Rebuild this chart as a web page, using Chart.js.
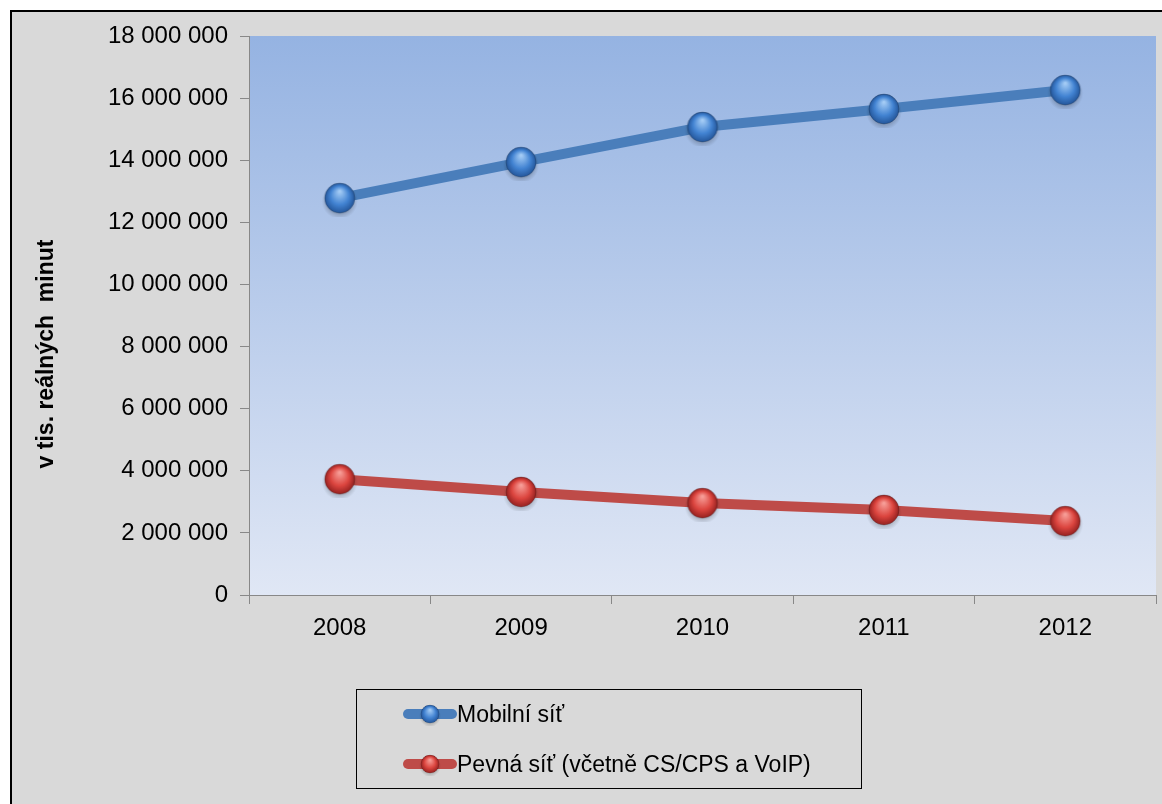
<!DOCTYPE html>
<html>
<head>
<meta charset="utf-8">
<script src="https://cdn.jsdelivr.net/npm/chart.js@4"></script>
<style>
  html, body { margin: 0; overflow: hidden; }
  body { background: #fff; font-family: "Liberation Sans", Arial, sans-serif; }
  .frame {
    position: absolute; left: 10px; top: 10px; width: 1150px; height: 792px;
    border-left: 2px solid #000; border-top: 2px solid #000; background: #d9d9d9;
  }
  .chart-wrap { position: absolute; left: 0; top: 0; width: 1162px; height: 804px; }
  .legend {
    position: absolute; left: 356px; top: 689px; width: 506px; height: 100px;
    box-sizing: border-box; border: 1px solid #000;
  }
  .legend-row { position: absolute; left: 46px; height: 30px; display: flex; align-items: center; font-size: 23px; color: #000; }
  .legend-row canvas { display: block; }
</style>
</head>
<body>
<div class="frame"></div>
<div class="chart-wrap"><canvas id="myChart" width="1162" height="804"></canvas></div>
<div class="legend" id="legend"></div>

<script>
const years = ["2008", "2009", "2010", "2011", "2012"];
const seriesNames = ["Mobilní síť", "Pevná síť (včetně CS/CPS a VoIP)"];
const mobileData = [12780000, 13940000, 15070000, 15650000, 16260000];
const fixedData = [3730000, 3320000, 2960000, 2740000, 2380000];
const yTicks = [0, 2000000, 4000000, 6000000, 8000000, 10000000, 12000000, 14000000, 16000000, 18000000];
const axisTitle = "v tis. reálných  minut";

function spaced(v) {
  return String(v).replace(/\B(?=(\d{3})+(?!\d))/g, " ");
}

// shiny ball used as point style
function makeBall(r, light, base, dark) {
  const size = r * 2 + 8;
  const c = document.createElement("canvas");
  c.width = size;
  c.height = size;
  const g = c.getContext("2d");
  const cx = size / 2, cy = size / 2;

  // soft shadow
  const sh = g.createRadialGradient(cx, cy + 3, r * 0.6, cx, cy + 3, r + 3);
  sh.addColorStop(0, "rgba(0,0,0,0.3)");
  sh.addColorStop(1, "rgba(0,0,0,0)");
  g.fillStyle = sh;
  g.beginPath();
  g.arc(cx, cy + 3, r + 3, 0, Math.PI * 2);
  g.fill();

  const grad = g.createRadialGradient(cx, cy - r * 0.45, r * 0.05, cx, cy, r);
  grad.addColorStop(0, light);
  grad.addColorStop(0.6, base);
  grad.addColorStop(1, dark);
  g.fillStyle = grad;
  g.beginPath();
  g.arc(cx, cy, r, 0, Math.PI * 2);
  g.fill();

  g.strokeStyle = "rgba(0,0,0,0.2)";
  g.lineWidth = 1;
  g.stroke();
  return c;
}

const blueBall = makeBall(15, "#a3cbf5", "#4283d2", "#24569a");
const redBall = makeBall(15, "#f79d97", "#dc453f", "#952120");

const plotBackground = {
  id: "plotBackground",
  beforeDraw(chart) {
    const { ctx, chartArea } = chart;
    const grad = ctx.createLinearGradient(0, chartArea.top, 0, chartArea.bottom);
    grad.addColorStop(0, "#95b3e2");
    grad.addColorStop(1, "#e0e7f5");
    ctx.save();
    ctx.fillStyle = grad;
    ctx.fillRect(chartArea.left, chartArea.top, chartArea.right - chartArea.left, chartArea.bottom - chartArea.top);
    ctx.restore();
  },
  afterDraw(chart) {
    const ctx = chart.ctx;
    ctx.save();
    ctx.translate(47, 354);
    ctx.rotate(-Math.PI / 2);
    ctx.font = "bold 23px 'Liberation Sans', Arial, sans-serif";
    ctx.fillStyle = "#000";
    ctx.textAlign = "center";
    ctx.textBaseline = "middle";
    ctx.fillText(axisTitle, 0, 0);
    ctx.restore();
  },
};

const ctx = document.getElementById("myChart");

new Chart(ctx, {
  type: "line",
  data: {
    labels: years,
    datasets: [
      {
        label: seriesNames[0],
        data: mobileData,
        borderColor: "#4a7ebb",
        borderWidth: 10,
        pointStyle: blueBall,
        pointRadius: 15,
        tension: 0,
      },
      {
        label: seriesNames[1],
        data: fixedData,
        borderColor: "#be4b48",
        borderWidth: 10,
        pointStyle: redBall,
        pointRadius: 15,
        tension: 0,
      },
    ],
  },
  options: {
    responsive: false,
    animation: false,
    layout: {
      autoPadding: false,
      padding: { left: 0, top: 36, right: 6, bottom: 169 },
    },
    plugins: {
      legend: { display: false },
      tooltip: { enabled: false },
    },
    scales: {
      x: {
        offset: true,
        afterFit: (scale) => {
          scale.height = 40;
          scale.paddingLeft = 0;
          scale.paddingRight = 0;
        },
        grid: {
          offset: true,
          drawOnChartArea: false,
          tickLength: 9,
          color: "#888",
        },
        border: { color: "#888" },
        ticks: {
          padding: 10,
          color: "#000",
          font: { family: "'Liberation Sans', Arial, sans-serif", size: 24 },
        },
      },
      y: {
        min: 0,
        max: 18000000,
        afterFit: (scale) => {
          scale.width = 249;
        },
        afterBuildTicks: (scale) => {
          scale.ticks = yTicks.map((v) => ({ value: v }));
        },
        grid: {
          drawOnChartArea: false,
          tickLength: 9,
          color: "#888",
        },
        border: { color: "#888" },
        ticks: {
          padding: 12,
          color: "#000",
          font: { family: "'Liberation Sans', Arial, sans-serif", size: 24 },
          callback: (v) => spaced(v),
        },
      },
    },
  },
  plugins: [plotBackground],
});

// -------- legend --------

const legendEl = document.getElementById("legend");
const legendItems = [
  { color: "#4a7ebb", ball: blueBall },
  { color: "#be4b48", ball: redBall },
];

legendItems.forEach((item, i) => {
  const row = document.createElement("div");
  row.className = "legend-row";
  row.style.top = (i === 0 ? 9 : 59) + "px";

  const sample = document.createElement("canvas");
  sample.width = 54;
  sample.height = 30;
  const g = sample.getContext("2d");
  g.strokeStyle = item.color;
  g.lineWidth = 10;
  g.lineCap = "round";
  g.beginPath();
  g.moveTo(5, 15);
  g.lineTo(49, 15);
  g.stroke();
  g.drawImage(item.ball, 27 - 11.5, 15 - 11.5, 23, 23);

  const label = document.createElement("span");
  label.innerText = seriesNames[i];

  row.appendChild(sample);
  row.appendChild(label);
  legendEl.appendChild(row);
});
</script>
</body>
</html>
